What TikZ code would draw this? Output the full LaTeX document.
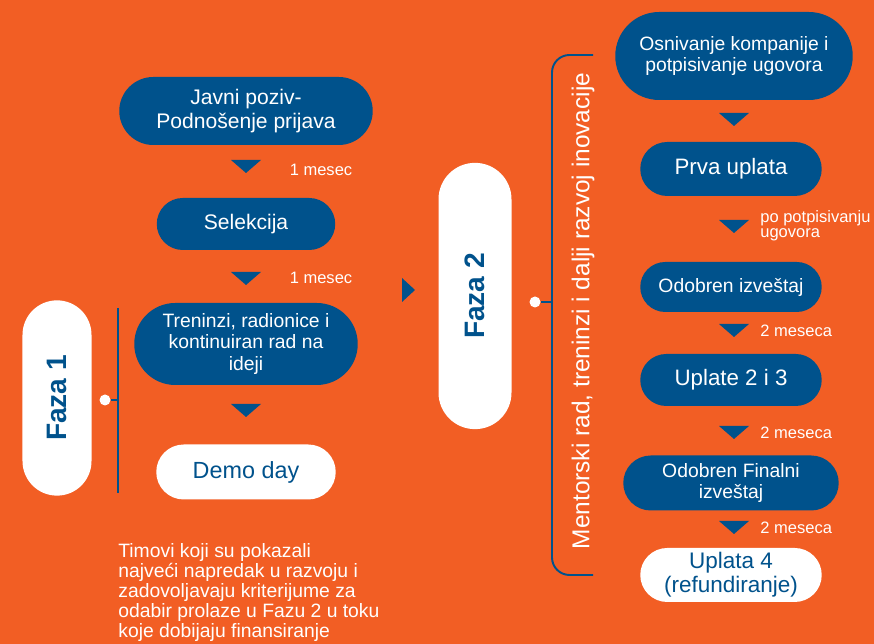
\documentclass[tikz,border=0pt]{standalone}
\usepackage{fontspec}
\setmainfont{Liberation Sans}
\usepackage{xcolor}
\usetikzlibrary{arrows, shapes}

\definecolor{bgorange}{RGB}{242,94,36}
\definecolor{darkblue}{RGB}{0,82,140}

\begin{document}
\begin{tikzpicture}[
    pill/.style={rounded rectangle, fill=darkblue, text=white, align=center, inner sep=1pt},
    whitepill/.style={rounded rectangle, fill=white, text=darkblue, align=center, inner sep=1pt},
    fazapill/.style={rounded rectangle, fill=white, text=darkblue, rotate=90, font=\bfseries\fontsize{16}{18}\selectfont},
    marker/.style={fill=darkblue},
    note/.style={text=white, align=left, font=\fontsize{9.4}{8.8}\selectfont},
    bracket/.style={draw=darkblue, line width=1.1pt},
    knob/.style={circle, fill=white, inner sep=0pt, minimum size=0.22cm}
]
    % Background
    \fill[bgorange] (0,0) rectangle (17.48,12.88);
    \useasboundingbox (0,0) rectangle (17.48,12.88);

    % Faza 1 nodes
    \node [pill, minimum width=5.14cm, minimum height=1.36cm, font=\fontsize{12}{13.6}\selectfont] (javni) at (4.92,10.66) {Javni poziv-\\Podnošenje prijava};
    \node [pill, minimum width=3.64cm, minimum height=1.04cm, font=\fontsize{12}{13.4}\selectfont] (selekcija) at (4.92,8.40) {Selekcija};
    \node [pill, minimum width=4.54cm, minimum height=1.64cm, font=\fontsize{11}{12.2}\selectfont] (treninzi) at (4.92,6.00) {Treninzi, radionice i\\kontinuiran rad na\\ideji};
    \node [whitepill, minimum width=3.66cm, minimum height=1.10cm, font=\fontsize{13.3}{14.6}\selectfont] (demo) at (4.92,3.44) {Demo day};
    \node [fazapill, minimum width=4.14cm, minimum height=1.38cm] (faza1) at (1.14,4.92) {Faza 1};

    % Faza 1 markers
    \fill[marker] (4.62,9.68) -- (5.22,9.68) -- (4.92,9.42) -- cycle;
    \fill[marker] (4.62,7.44) -- (5.22,7.44) -- (4.92,7.18) -- cycle;
    \fill[marker] (4.62,4.80) -- (5.22,4.80) -- (4.92,4.54) -- cycle;
    \node [note] (mesec1) at (6.42,9.48) {1 mesec};
    \node [note] (mesec2) at (6.42,7.32) {1 mesec};

    % Faza 1 bracket
    \draw[bracket] (2.36,6.72) -- (2.36,3.02);
    \node [knob] (dot1) at (2.10,4.88) {};
    \draw[bracket] (dot1) -- (2.36,4.88);

    % Between phases
    \fill[marker] (8.04,7.32) -- (8.30,7.08) -- (8.04,6.84) -- cycle;
    \node [fazapill, minimum width=5.56cm, minimum height=1.46cm] (faza2) at (9.50,6.96) {Faza 2};

    % Faza 2 bracket
    \draw[bracket, rounded corners=0.35cm] (11.86,11.78) -- (11.04,11.78) -- (11.04,1.38) -- (11.86,1.38);
    \node [knob] (dot2) at (10.70,6.84) {};
    \draw[bracket] (dot2) -- (11.04,6.84);
    \node [text=white, rotate=90, font=\fontsize{13.9}{15}\selectfont] (mentor) at (11.66,6.66) {Mentorski rad, treninzi i dalji razvoj inovacije};

    % Faza 2 nodes
    \node [pill, minimum width=4.82cm, minimum height=1.76cm, font=\fontsize{11}{12.2}\selectfont] (osnivanje) at (14.68,11.76) {Osnivanje kompanije i\\potpisivanje ugovora};
    \node [pill, minimum width=3.70cm, minimum height=1.08cm, font=\fontsize{12.7}{14}\selectfont] (prva) at (14.62,9.50) {Prva uplata};
    \node [pill, minimum width=3.70cm, minimum height=1.00cm, font=\fontsize{11}{12.2}\selectfont] (odobren) at (14.62,7.14) {Odobren izveštaj};
    \node [pill, minimum width=3.70cm, minimum height=1.04cm, font=\fontsize{12.7}{14}\selectfont] (uplate) at (14.62,5.28) {Uplate 2 i 3};
    \node [pill, minimum width=4.38cm, minimum height=1.10cm, font=\fontsize{11}{12.2}\selectfont] (finalni) at (14.62,3.22) {Odobren Finalni\\izveštaj};
    \node [whitepill, minimum width=3.70cm, minimum height=1.08cm, font=\fontsize{12.8}{13.6}\selectfont] (uplata4) at (14.62,1.38) {Uplata 4\\(refundiranje)};

    % Faza 2 markers
    \fill[marker] (14.38,10.62) -- (14.98,10.62) -- (14.68,10.36) -- cycle;
    \fill[marker] (14.38,8.48) -- (14.98,8.48) -- (14.68,8.22) -- cycle;
    \fill[marker] (14.38,6.40) -- (14.98,6.40) -- (14.68,6.14) -- cycle;
    \fill[marker] (14.38,4.36) -- (14.98,4.36) -- (14.68,4.10) -- cycle;
    \fill[marker] (14.38,2.46) -- (14.98,2.46) -- (14.68,2.20) -- cycle;
    \node [note, anchor=west, inner sep=0pt] (potpis) at (15.20,8.36) {po potpisivanju\\ugovora};
    \node [note, anchor=west, inner sep=0pt] (meseca1) at (15.20,6.26) {2 meseca};
    \node [note, anchor=west, inner sep=0pt] (meseca2) at (15.20,4.22) {2 meseca};
    \node [note, anchor=west, inner sep=0pt] (meseca3) at (15.20,2.32) {2 meseca};

    % Bottom text
    \node [text=white, align=left, anchor=north west, inner sep=0pt, font=\fontsize{11}{11.4}\selectfont] (timovi) at (2.36,2.02) {Timovi koji su pokazali\\najveći napredak u razvoju i\\zadovoljavaju kriterijume za\\odabir prolaze u Fazu 2 u toku\\koje dobijaju finansiranje};
\end{tikzpicture}
\end{document}
